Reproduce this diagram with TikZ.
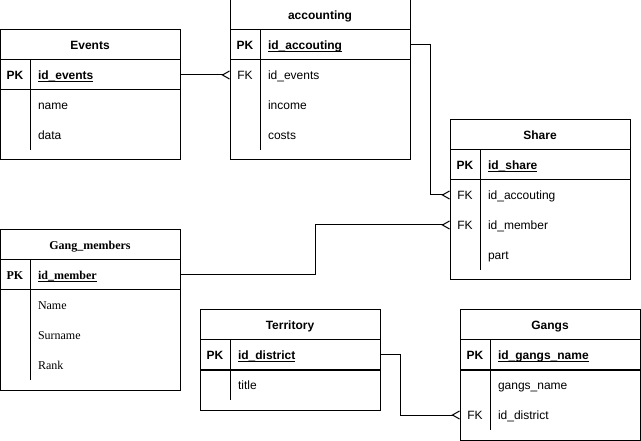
\documentclass[tikz,border=0pt]{standalone}
\usepackage{fontspec}
\setmainfont{Liberation Sans}
\newfontfamily\seriffont{Liberation Serif}
\usetikzlibrary{positioning,arrows.meta}

\begin{document}
\begin{tikzpicture}[
  x=1pt, y=-1pt,
  line width=1pt,
  node distance=0pt,
  every node/.style={outer sep=0pt, font=\fontsize{12}{14}\selectfont, text height=12pt, text depth=3pt},
  entity/.style={rectangle, draw, anchor=north west, minimum width=180pt, inner sep=0pt},
  headrow/.style={rectangle, anchor=north west, minimum width=180pt, minimum height=30pt, inner sep=0pt, font=\fontsize{12}{14}\selectfont\bfseries},
  keycell/.style={rectangle, minimum width=30pt, minimum height=30pt, inner sep=0pt},
  fieldcell/.style={rectangle, minimum height=30pt, text width=134pt, inner xsep=8pt, inner ysep=0pt, align=left},
  bold/.style={font=\fontsize{12}{14}\selectfont\bfseries},
  many/.style={-{Straight Barb[reversed, length=7pt, width=8pt]}}
]
\useasboundingbox (0,0) rectangle (641,441);

% Events table
\node[entity, minimum height=130pt] (events) at (0,30) {};
\node[headrow] (events-h) at (events.north west) {Events};
\node[keycell, bold, anchor=north west] (events-k1) at (events-h.south west) {PK};
\node[fieldcell, bold, right=of events-k1] (events-f1) {\underline{\smash{id\_events}}};
\node[keycell, below=of events-k1] (events-k2) {};
\node[fieldcell, right=of events-k2] (events-f2) {name};
\node[keycell, below=of events-k2] (events-k3) {};
\node[fieldcell, right=of events-k3] (events-f3) {data};
\draw (events-h.south west) -- (events-h.south east);
\draw (events-k1.south west) -- (events-f1.south east);
\draw (events-k1.north east) -- (events-k3.south east);

% accounting table
\node[entity, minimum height=160pt] (acc) at (230,0) {};
\node[headrow] (acc-h) at (acc.north west) {accounting};
\node[keycell, bold, anchor=north west] (acc-k1) at (acc-h.south west) {PK};
\node[fieldcell, bold, right=of acc-k1] (acc-f1) {\underline{\smash{id\_accouting}}};
\node[keycell, below=of acc-k1] (acc-k2) {FK};
\node[fieldcell, right=of acc-k2] (acc-f2) {id\_events};
\node[keycell, below=of acc-k2] (acc-k3) {};
\node[fieldcell, right=of acc-k3] (acc-f3) {income};
\node[keycell, below=of acc-k3] (acc-k4) {};
\node[fieldcell, right=of acc-k4] (acc-f4) {costs};
\draw (acc-h.south west) -- (acc-h.south east);
\draw (acc-k1.south west) -- (acc-f1.south east);
\draw (acc-k1.north east) -- (acc-k4.south east);

% Share table
\node[entity, minimum height=160pt] (share) at (450,120) {};
\node[headrow] (share-h) at (share.north west) {Share};
\node[keycell, bold, anchor=north west] (share-k1) at (share-h.south west) {PK};
\node[fieldcell, bold, right=of share-k1] (share-f1) {\underline{\smash{id\_share}}};
\node[keycell, below=of share-k1] (share-k2) {FK};
\node[fieldcell, right=of share-k2] (share-f2) {id\_accouting};
\node[keycell, below=of share-k2] (share-k3) {FK};
\node[fieldcell, right=of share-k3] (share-f3) {id\_member};
\node[keycell, below=of share-k3] (share-k4) {};
\node[fieldcell, right=of share-k4] (share-f4) {part};
\draw (share-h.south west) -- (share-h.south east);
\draw (share-k1.south west) -- (share-f1.south east);
\draw (share-k1.north east) -- (share-k4.south east);

% Gang_members table (serif text)
\node[entity, minimum height=160pt] (gm) at (0,230) {};
\node[headrow, font=\seriffont\fontsize{12}{14}\selectfont\bfseries] (gm-h) at (gm.north west) {Gang\_members};
\node[keycell, anchor=north west, font=\seriffont\fontsize{12}{14}\selectfont\bfseries] (gm-k1) at (gm-h.south west) {PK};
\node[fieldcell, right=of gm-k1, font=\seriffont\fontsize{12}{14}\selectfont\bfseries] (gm-f1) {\underline{\smash{id\_member}}};
\node[keycell, below=of gm-k1] (gm-k2) {};
\node[fieldcell, right=of gm-k2, font=\seriffont\fontsize{12}{14}\selectfont] (gm-f2) {Name};
\node[keycell, below=of gm-k2] (gm-k3) {};
\node[fieldcell, right=of gm-k3, font=\seriffont\fontsize{12}{14}\selectfont] (gm-f3) {Surname};
\node[keycell, below=of gm-k3] (gm-k4) {};
\node[fieldcell, right=of gm-k4, font=\seriffont\fontsize{12}{14}\selectfont] (gm-f4) {Rank};
\draw (gm-h.south west) -- (gm-h.south east);
\draw (gm-k1.south west) -- (gm-f1.south east);
\draw (gm-k1.north east) -- (gm-k4.south east);

% Territory table
\node[entity, minimum height=100pt] (ter) at (200,310) {};
\node[headrow] (ter-h) at (ter.north west) {Territory};
\node[keycell, bold, anchor=north west] (ter-k1) at (ter-h.south west) {PK};
\node[fieldcell, bold, right=of ter-k1] (ter-f1) {\underline{\smash{id\_district}}};
\node[keycell, below=of ter-k1] (ter-k2) {};
\node[fieldcell, right=of ter-k2] (ter-f2) {title};
\draw (ter-h.south west) -- (ter-h.south east);
\draw (ter-k1.south west) -- (ter-f1.south east);
\draw (ter-k1.north east) -- (ter-k2.south east);

% Gangs table
\node[entity, minimum height=130pt] (gangs) at (460,310) {};
\node[headrow] (gangs-h) at (gangs.north west) {Gangs};
\node[keycell, bold, anchor=north west] (gangs-k1) at (gangs-h.south west) {PK};
\node[fieldcell, bold, right=of gangs-k1] (gangs-f1) {\underline{\smash{id\_gangs\_name}}};
\node[keycell, below=of gangs-k1] (gangs-k2) {};
\node[fieldcell, right=of gangs-k2] (gangs-f2) {gangs\_name};
\node[keycell, below=of gangs-k2] (gangs-k3) {FK};
\node[fieldcell, right=of gangs-k3] (gangs-f3) {id\_district};
\draw (gangs-h.south west) -- (gangs-h.south east);
\draw (gangs-k1.south west) -- (gangs-f1.south east);
\draw (gangs-k1.north east) -- (gangs-k3.south east);

% relations (one to many)
\draw[many] (events-f1.east) -- (acc-k2.west);
\draw[many] (acc-f1.east) -- ++(20,0) |- (share-k2.west);
\draw[many] (gm-f1.east) -- ++(135,0) |- (share-k3.west);
\draw[many] (ter-f1.east) -- ++(20,0) |- (gangs-k3.west);

\end{tikzpicture}
\end{document}
